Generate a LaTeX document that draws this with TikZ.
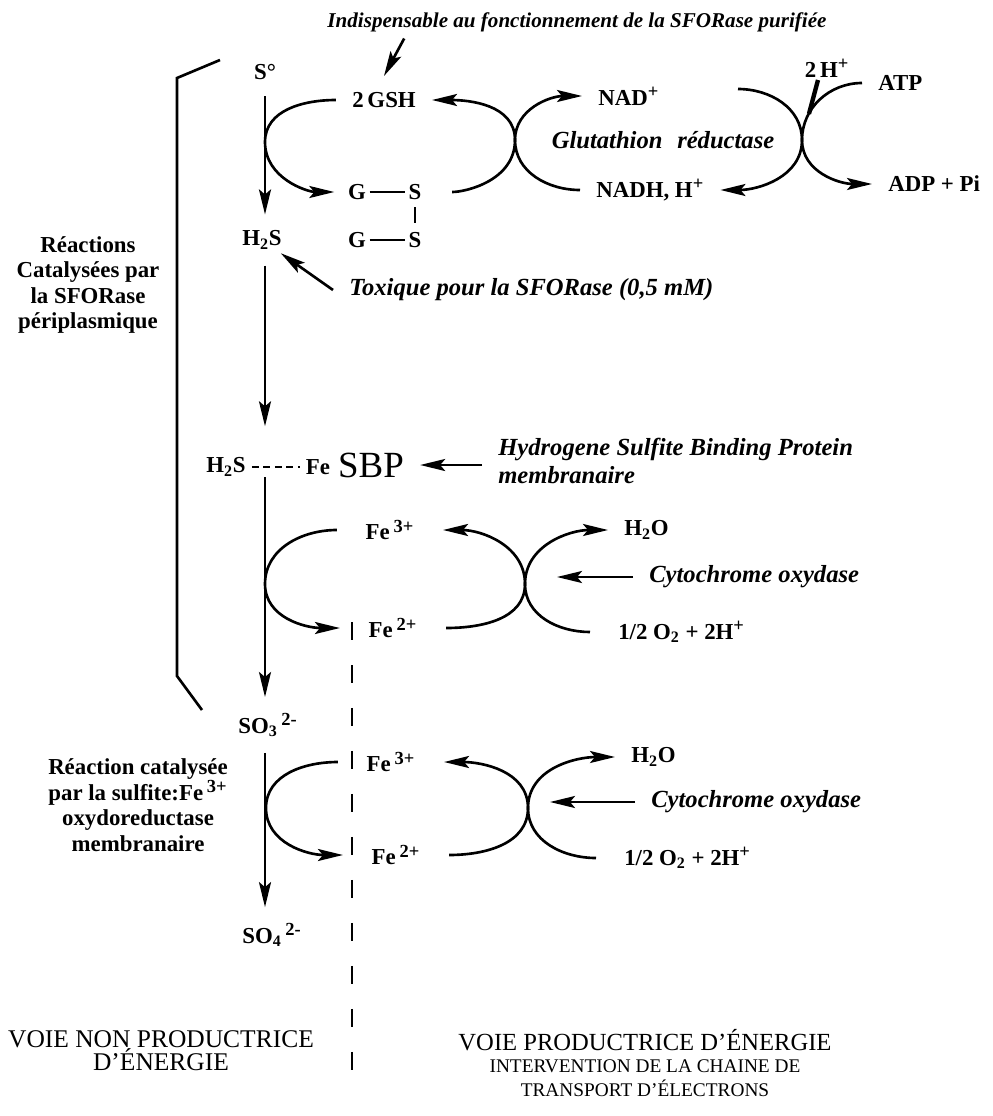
\documentclass[tikz,border=0pt]{standalone}
\usepackage{fontspec}
\setmainfont{Liberation Serif}
\usetikzlibrary{arrows.meta,calc}

\newcommand{\chg}[1]{\textsuperscript{\fontsize{10.5}{11}\selectfont #1}}

\tikzset{
  chem/.style={font=\fontsize{13}{15}\selectfont\bfseries, inner sep=0.3cm},
  atom/.style={font=\fontsize{13}{15}\selectfont\bfseries, inner sep=0.05cm},
  fe/.style={chem, inner xsep=0.55cm},
  note/.style={font=\fontsize{14}{16}\selectfont\bfseries\itshape, inner xsep=0.3cm, inner ysep=0.05cm},
  side/.style={font=\fontsize{13}{14.5}\selectfont\bfseries, align=center},
  voie/.style={font=\fontsize{14.5}{13}\selectfont, align=center},
  sepline/.style={line width=1.5pt, dash pattern=on 0.36cm off 0.5cm},
}

\begin{document}
\begin{tikzpicture}[x=0.02cm,y=-0.02cm,line width=1.5pt,
                    >={Stealth[length=0.5cm,width=0.24cm,inset=0.1cm]}]
\useasboundingbox (0,0) rectangle (992,1116);

% soufre -> H2S, glutathion
\node[note, font=\fontsize{12}{14}\selectfont\bfseries\itshape] (indis) at (577,22) {Indispensable au fonctionnement de la SFORase purifiée};
\node[chem] (so) at (265,72) {S°};
\node[chem] (gsh) at (384,100) {2\,GSH};
\node[atom] (g1) at (357,192) {G};
\node[atom] (s1) at (415,192) {S};
\node[atom] (g2) at (357,240) {G};
\node[atom] (s2) at (415,240) {S};
\node[chem] (h2s1) at (262,240) {H\textsubscript{2}S};
\node[note, anchor=west] (tox) at (333,290) {Toxique pour la SFORase (0,5 mM)};

\node[chem, anchor=west] (nad) at (582,96) {NAD\chg{+}};
\node[note] (glut) at (663,140) {Glutathion\hspace{0.6em}réductase};
\node[chem, anchor=west] (nadh) at (580,190) {NADH, H\chg{+}};
\node[chem] (hh) at (827,68) {2\,H\chg{+}};
\node[chem, anchor=west] (atp) at (862,83) {ATP};
\node[chem, anchor=west] (adp) at (872,184) {ADP + Pi};

\coordinate (cA) at (265,142);
\coordinate (x1) at (515,140);
\coordinate (x2) at (802,140);
\coordinate (gr) at (738,89);

% SBP
\node[chem, inner xsep=0.1cm] (h2s2) at (226,467) {H\textsubscript{2}S};
\node[chem, inner xsep=0.1cm] (fe0) at (318,467) {Fe};
\node[chem, font=\fontsize{21}{23}\selectfont] (sbp) at (371,465) {SBP};
\node[note, anchor=west, align=left] (hsbp) at (482,461) {Hydrogene Sulfite Binding Protein\\membranaire};

% fer, premier cycle
\node[fe] (fe3a) at (390,530) {Fe\,\chg{3+}};
\node[fe] (fe2a) at (393,628) {Fe\,\chg{2+}};
\node[chem, anchor=west] (h2oa) at (608,530) {H\textsubscript{2}O};
\node[note, anchor=west] (cyta) at (633,577) {Cytochrome oxydase};
\node[chem, anchor=west, inner xsep=0.54cm] (o2a) at (590,632) {1/2 O\textsubscript{2} + 2H\chg{+}};
\coordinate (cB) at (265,584);
\coordinate (xB) at (525,584);

% sulfite -> sulfate
\node[chem] (so3) at (268,725) {SO\textsubscript{3}\,\chg{2-}};
\node[chem] (so4) at (272,935) {SO\textsubscript{4}\,\chg{2-}};
\node[fe] (fe3b) at (391,762) {Fe\,\chg{3+}};
\node[fe] (fe2b) at (396,855) {Fe\,\chg{2+}};
\node[chem, anchor=west] (h2ob) at (615,757) {H\textsubscript{2}O};
\node[note, anchor=west] (cytb) at (635,802) {Cytochrome oxydase};
\node[chem, anchor=west, inner xsep=0.54cm] (o2b) at (596,858) {1/2 O\textsubscript{2} + 2H\chg{+}};
\coordinate (cC) at (266,808);
\coordinate (xC) at (528,808);

\node[side] (periA) at (88,285) {Réactions\\Catalysées par\\la SFORase\\périplasmique};
\node[side] (sulfB) at (138,805) {Réaction catalysée\\par la sulfite:Fe\,\chg{3+}\\oxydoreductase\\membranaire};
\node[voie] (voieA) at (161,1051) {VOIE NON PRODUCTRICE\\D'ÉNERGIE};
\node[voie, font=\fontsize{14}{13}\selectfont] (voieB) at (645,1040) {VOIE PRODUCTRICE D'ÉNERGIE};
\node[voie, font=\fontsize{11}{13.6}\selectfont] (chaine) at (645,1078) {INTERVENTION DE LA CHAINE DE\\TRANSPORT D'ÉLECTRONS};

% crochet et separation
\draw (220,60) -- (177,78) -- (177,676) -- (202,710);
\draw[sepline] (352,622) -- (352,1092);

% axe principal
\draw[->] (so.south) -- (so |- h2s1.north);
\draw[->, shorten >=0.2cm] (so |- h2s1.south) -- (so |- sbp.north);
\draw[->] ($(so |- h2s2)+(0,10)$) -- (so |- so3.north);
\draw[->] (so |- so3.south) -- (so |- so4.north);

\draw[->] ($(indis.south west)+(93,3)$) -- (gsh.north);
\draw[->, shorten >=0.46cm] (tox.west) -- (h2s1.center);
\draw (g1) -- (s1);
\draw (g2) -- (s2);
\draw[shorten <=0.08cm, shorten >=0.12cm] (s1) -- (s2);
\draw[line width=1pt, dash pattern=on 0.14cm off 0.09cm] (h2s2) -- (fe0);
\draw[->] (hsbp.west |- sbp.east) -- (sbp.east);

% cycles
\draw[->, shorten >=0.2cm] (gsh.west) to[out=180,in=90] (cA) to[out=-90,in=180] (g1.west);
\draw[->, shorten <=0.54cm] (s1.east) to[out=0,in=-90] (x1) to[out=90,in=0] (gsh.east);
\draw[->] (nadh.west) to[out=180,in=-90] (x1) to[out=90,in=180] (nad.west);
\draw[->] (gr) to[out=0,in=90] (x2) to[out=-90,in=0] (nadh.east);
\draw[->] (atp.west) to[out=180,in=90] (x2) to[out=-90,in=180] (adp.west);
\draw[line width=2.5pt, shorten >=0.54cm] ($(hh)+(-9,12)$) -- (x2);

\draw[->] (fe3a.west) to[out=180,in=90] (cB) to[out=-90,in=180] (fe2a.west);
\draw[->] (fe2a.east) to[out=0,in=-90] (xB) to[out=90,in=0] (fe3a.east);
\draw[->] (o2a.west) to[out=180,in=-90] (xB) to[out=90,in=180] (h2oa.west);
\draw[->, shorten >=0.64cm] (cyta.west) -- (cyta.west -| xB);

\draw[->] (fe3b.west) to[out=180,in=90] (cC) to[out=-90,in=180] (fe2b.west);
\draw[->] (fe2b.east) to[out=0,in=-90] (xC) to[out=90,in=0] (fe3b.east);
\draw[->] (o2b.west) to[out=180,in=-90] (xC) to[out=90,in=180] (h2ob.west);
\draw[->, shorten >=0.44cm] (cytb.west) -- (cytb.west -| xC);

\end{tikzpicture}
\end{document}
